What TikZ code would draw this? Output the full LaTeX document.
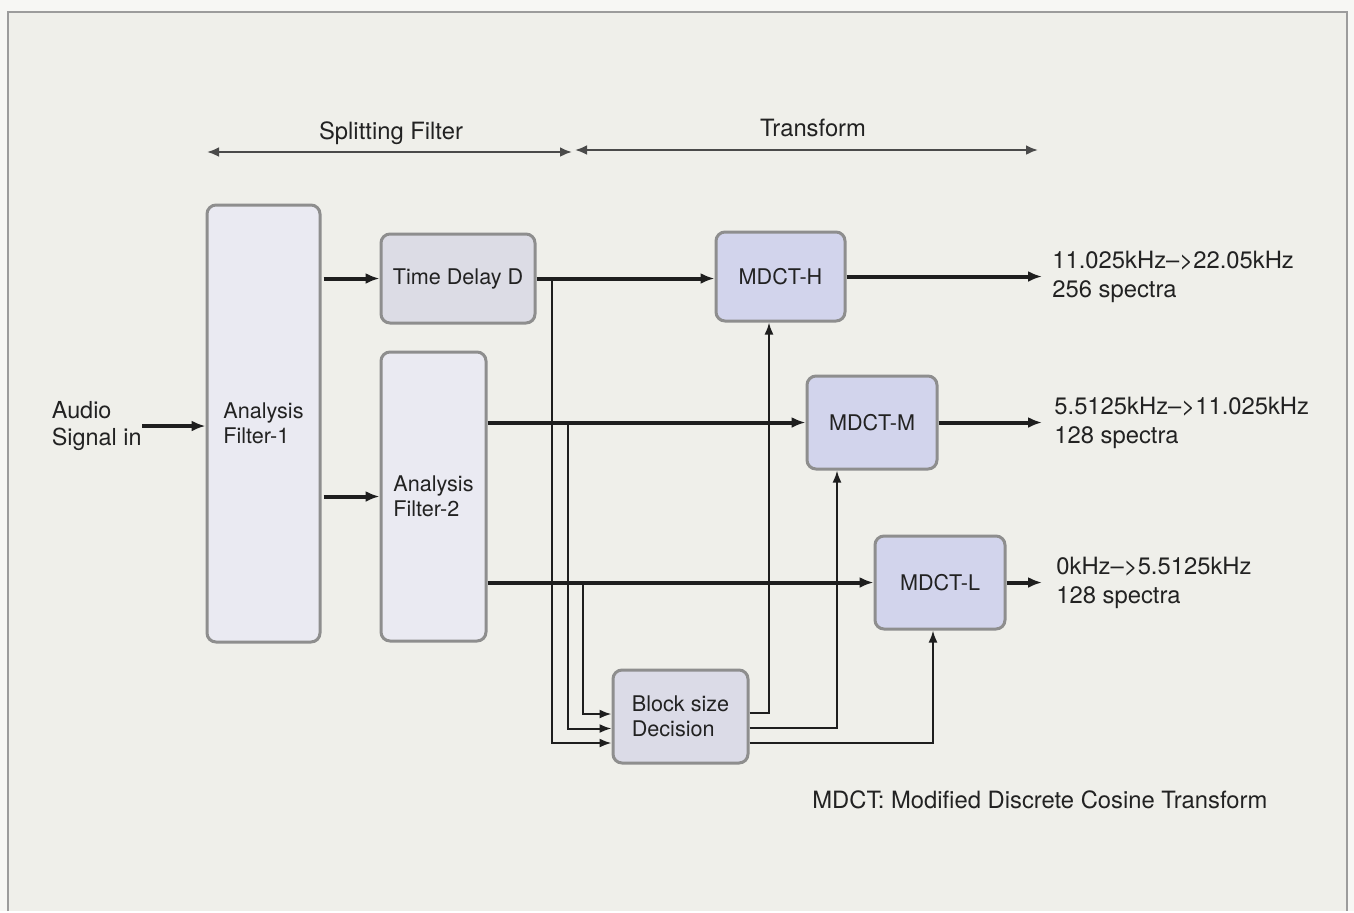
\documentclass[tikz,border=0pt]{standalone}
\usepackage{fontspec}
\setmainfont{TeX Gyre Heros}
\usetikzlibrary{arrows.meta,calc}
\definecolor{bg}{HTML}{EFEFEA}
\definecolor{outside}{HTML}{F7F7F4}
\definecolor{frameline}{HTML}{9C9C9C}
\definecolor{boxline}{HTML}{8E8E8E}
\definecolor{txt}{HTML}{222222}
\definecolor{afill}{HTML}{EAEAF2}
\definecolor{tdfill}{HTML}{DCDCE5}
\definecolor{mfill}{HTML}{D2D4EC}
\definecolor{bsfill}{HTML}{DBDBE7}
\definecolor{wire}{HTML}{1E1E1E}
\definecolor{rangeline}{HTML}{4A4A4A}
\begin{document}
\begin{tikzpicture}[x=0.5pt,y=-0.5pt,
  box/.style={draw=boxline,line width=1.5pt,rounded corners=4.5pt,inner sep=0pt,
    font=\fontsize{10.8}{12.5}\selectfont,text=txt,align=left},
  lbl/.style={inner sep=0pt,font=\fontsize{11.9}{14.5}\selectfont,text=txt,align=left},
  thick arrow/.style={draw=wire,line width=2pt,-{Latex[length=7pt,width=5.5pt]}},
  thin arrow/.style={draw=wire,line width=1pt,-{Latex[length=6pt,width=4.5pt]}},
  thin line/.style={draw=wire,line width=1pt},
  range arrow/.style={draw=rangeline,line width=1.3pt,{Latex[length=6pt,width=5pt]}-{Latex[length=6pt,width=5pt]}}
]
% background and frame
\fill[outside] (0,0) rectangle (1354,911);
\fill[bg] (8,12) rectangle (1347,911);
\draw[frameline,line width=1pt] (8,911) -- (8,12) -- (1347,12) -- (1347,911);
\useasboundingbox (0,0) rectangle (1354,911);

% boxes
\node[box,fill=afill,minimum width=56.5pt,minimum height=218.5pt] (af1) at (263.5,423.5) {Analysis\\Filter-1};
\node[box,fill=tdfill,minimum width=77pt,minimum height=44.5pt] (td) at (458,278.5) {Time Delay D};
\node[box,fill=afill,minimum width=52.5pt,minimum height=144.5pt] (af2) at (433.5,496.5) {Analysis\\Filter-2};
\node[box,fill=mfill,minimum width=64.5pt,minimum height=44.5pt] (mh) at (780.5,276.5) {MDCT-H};
\node[box,fill=mfill,minimum width=65pt,minimum height=46.5pt] (mm) at (872,422.5) {MDCT-M};
\node[box,fill=mfill,minimum width=65pt,minimum height=46.5pt] (ml) at (940,582.5) {MDCT-L};
\node[box,fill=bsfill,minimum width=67.5pt,minimum height=46.5pt] (bs) at (680.5,716.5) {Block size\\Decision};

% labels
\node[lbl,anchor=east,font=\fontsize{11.7}{13.5}\selectfont] (audio) at (142,426) {Audio\\Signal in};
\node[lbl,anchor=west] (outh) at (1052,277) {11.025kHz–>22.05kHz\\256 spectra};
\node[lbl,anchor=west] (outm) at (1054,423) {5.5125kHz–>11.025kHz\\128 spectra};
\node[lbl,anchor=west] (outl) at (1056,583) {0kHz–>5.5125kHz\\128 spectra};
\node[lbl] (split) at (391,133) {Splitting Filter};
\node[lbl] (trans) at (813,128) {Transform};
\node[lbl,anchor=west] (note) at (812,800) {MDCT: Modified Discrete Cosine Transform};

% range arrows
\coordinate (sL) at (207,152);
\coordinate (sR) at (572,152);
\coordinate (tL) at (575,150);
\coordinate (tR) at (1038,150);
\draw[range arrow] (sL) -- (sR);
\draw[range arrow] (tL) -- (tR);

% thick signal paths
\draw[thick arrow] (audio.east) -- (audio.east -| af1.west);
\draw[thick arrow] ([xshift=1pt]af1.east |- td.west) -- (td.west);
\draw[thick arrow] ([xshift=1pt]af1.east |- af2.west) -- (af2.west);
\draw[thick arrow] (td.east) -- (td.east -| mh.west);
\draw[thick arrow] (af2.east |- mm.west) -- (mm.west);
\draw[thick arrow] (af2.east |- ml.west) -- (ml.west);
\draw[thick arrow,shorten >=5pt] (mh.east) -- (mh.east -| outh.west);
\draw[thick arrow,shorten >=6pt] (mm.east) -- (mm.east -| outm.west);
\draw[thick arrow,shorten >=7pt] (ml.east) -- (ml.east -| outl.west);

% taps into block size decision
\coordinate (tapH) at (552,278.5);
\coordinate (tapM) at (568,422.5);
\coordinate (tapL) at (583,582.5);
\draw[thin arrow] (tapH) |- ($(bs.west)+(0,26.5)$);
\draw[thin arrow] (tapM) |- ($(bs.west)+(0,12)$);
\draw[thin arrow] (tapL) |- ($(bs.west)+(0,-2.5)$);

% block size decision outputs
\draw[thin arrow] ($(bs.east)+(0,-3.5)$) -| ($(mh.south)+(-11.5,0)$);
\draw[thin arrow] ($(bs.east)+(0,11.5)$) -| ($(mm.south)+(-35,0)$);
\draw[thin arrow] ($(bs.east)+(0,26.5)$) -| ($(ml.south)+(-7,0)$);
\end{tikzpicture}
\end{document}
